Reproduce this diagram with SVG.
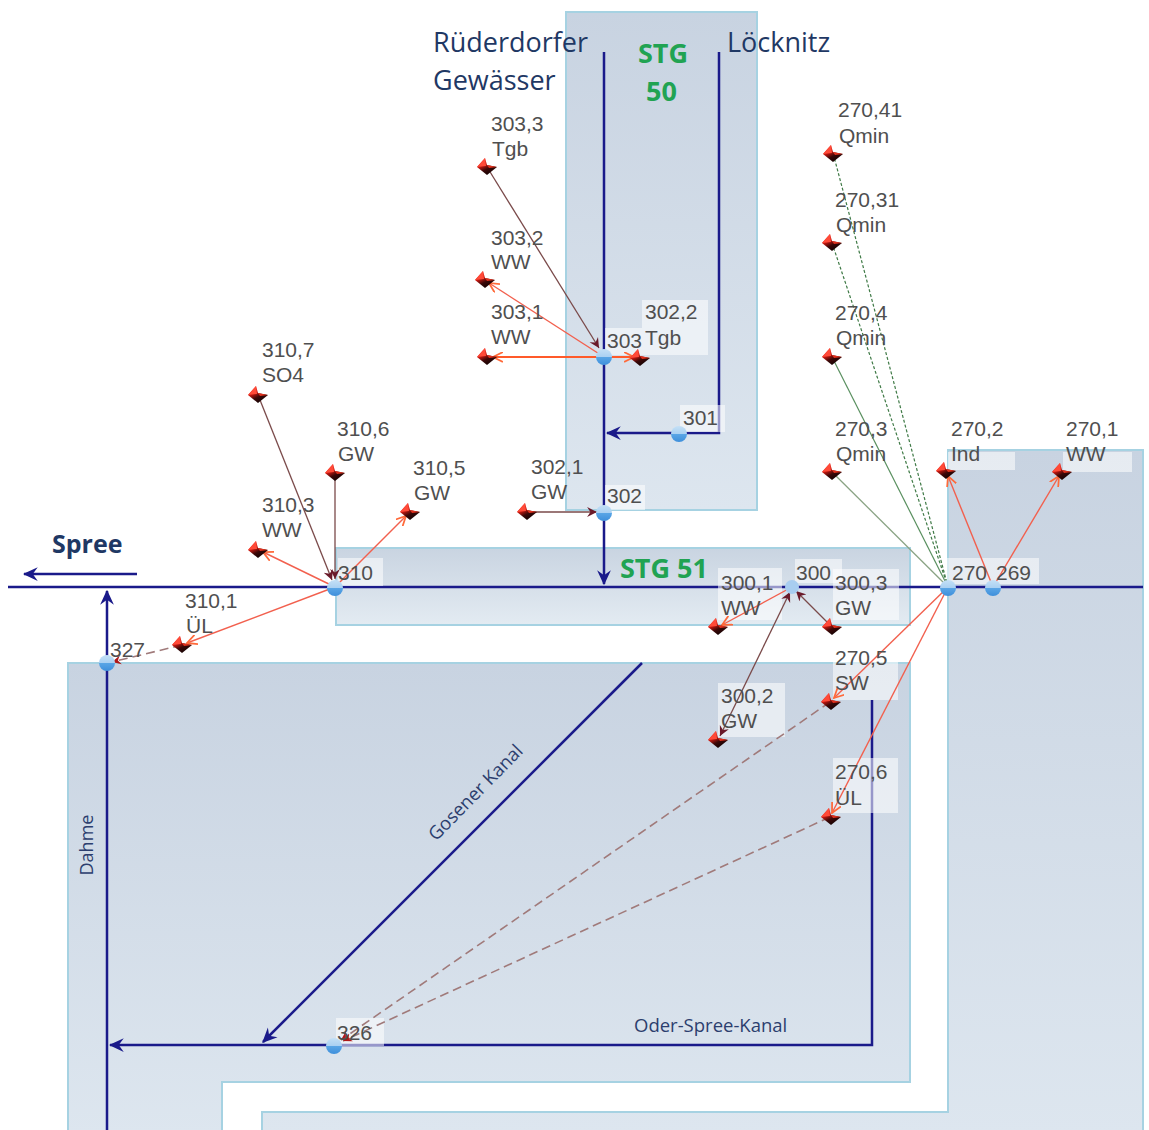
<svg xmlns="http://www.w3.org/2000/svg" width="1149" height="1130" viewBox="0 0 1149 1130">
<style>
.reg{stroke:#a6d2e2;stroke-width:2}
.riv{fill:none;stroke:#1a1a8a;stroke-width:2.5}
.lb{font-family:"Liberation Sans",Arial,sans-serif;font-size:21px;fill:#4f4f4f}
.nm{font-family:"Open Sans","Liberation Sans",sans-serif;font-size:27px;fill:#1f3864}
.stg{font-family:"Open Sans","Liberation Sans",sans-serif;font-size:27px;font-weight:bold;fill:#21a352}
.sm{font-family:"Open Sans","Liberation Sans",sans-serif;font-size:18px;fill:#2c3e6e}
.bx{fill:#ffffff;opacity:0.55}
.red{fill:none;stroke:#f2604e;stroke-width:1.4}
.ora{fill:none;stroke:#ff5a2a;stroke-width:2}
.drk{fill:none;stroke:#7a4a4a;stroke-width:1.3}
.dsh{fill:none;stroke:#a07a7a;stroke-width:1.6;stroke-dasharray:9 5}
.gd{fill:none;stroke:#3f7a46;stroke-width:1.2;stroke-dasharray:3 2}
.gs{fill:none;stroke:#5a9060;stroke-width:1.2}
.gg{fill:none;stroke:#8aa384;stroke-width:1.3}
</style>
<defs>
<linearGradient id="gr" x1="0" y1="0" x2="0" y2="1"><stop offset="0" stop-color="#c8d3e1"/><stop offset="1" stop-color="#dde6ef"/></linearGradient>
<linearGradient id="gr2" x1="0" y1="0" x2="0" y2="1"><stop offset="0" stop-color="#c9d4e1"/><stop offset="1" stop-color="#e3ebf2"/></linearGradient>
<linearGradient id="nd" x1="0" y1="0" x2="0" y2="1"><stop offset="0" stop-color="#c4e0f6"/><stop offset="0.5" stop-color="#a9d0f2"/><stop offset="0.5" stop-color="#5aa6e6"/><stop offset="1" stop-color="#3e8fdb"/></linearGradient>
<linearGradient id="mkg" x1="0" y1="0" x2="0.6" y2="1"><stop offset="0" stop-color="#ff4a3a"/><stop offset="0.45" stop-color="#c81810"/><stop offset="0.7" stop-color="#3a0808"/><stop offset="1" stop-color="#120202"/></linearGradient>
<marker id="nav" viewBox="0 0 12 12" refX="11" refY="6" markerWidth="15" markerHeight="15" markerUnits="userSpaceOnUse" orient="auto"><path d="M0,0.5 L12,6 L0,11.5 L4,6 Z" fill="#1a1a8a"/></marker>
<marker id="ar" viewBox="0 0 10 10" refX="9" refY="5" markerWidth="11" markerHeight="11" markerUnits="userSpaceOnUse" orient="auto"><path d="M0,0.5 L9,5 L0,9.5" fill="none" stroke="#ff6a3a" stroke-width="1.6"/></marker>
<marker id="ad" viewBox="0 0 10 10" refX="9" refY="5" markerWidth="11" markerHeight="11" markerUnits="userSpaceOnUse" orient="auto-start-reverse"><path d="M0,0.5 L9,5 L0,9.5 L3,5 Z" fill="#6a1a2a"/></marker>
<marker id="adr" viewBox="0 0 10 10" refX="9" refY="5" markerWidth="10" markerHeight="10" markerUnits="userSpaceOnUse" orient="auto"><path d="M0,0.5 L9,5 L0,9.5 L3,5 Z" fill="#b01818"/></marker>
<g id="mk"><polygon points="-10,0 -2,-9 0,-2 10,0 0,8" fill="url(#mkg)"/><polygon points="-10,0 -2,-9 -1,-1" fill="#ff4a38"/><polygon points="0,-2 10,0 2,1" fill="#e0301c"/></g>
</defs>

<g id="regions">
<rect id="stg50" class="reg" x="566" y="12" width="191" height="498" fill="url(#gr)"/>
<rect id="stg51" class="reg" x="336" y="548" width="574" height="77" fill="url(#gr2)"/>
<path id="lower" class="reg" d="M68,663 H910 V1082 H222 V1134 H68 Z" fill="url(#gr)"/>
<path id="right" class="reg" d="M948,450 H1143 V1134 H262 V1112 H948 Z" fill="url(#gr)"/>
</g>

<g id="rivers">
<path class="riv" d="M8,587 H1143"/>
<path class="riv" d="M604,52 V584" marker-end="url(#nav)"/>
<path class="riv" d="M719,52 V433 H607" marker-end="url(#nav)"/>
<path class="riv" d="M107,1134 V591" marker-end="url(#nav)"/>
<path class="riv" d="M872,700 V1045 H110" marker-end="url(#nav)"/>
<path class="riv" d="M642,663 L263,1042" marker-end="url(#nav)"/>
<path class="riv" d="M137,574 H24" stroke="#1f3864" stroke-width="1.8" marker-end="url(#nav)"/>
</g>

<g id="labelboxes">
<rect class="bx" x="605" y="328" width="37" height="27"/>
<rect class="bx" x="642" y="300" width="66" height="55"/>
<rect class="bx" x="680" y="405" width="45" height="27"/>
<rect class="bx" x="605" y="485" width="40" height="25"/>
<rect class="bx" x="338" y="558" width="45" height="28"/>
<rect class="bx" x="718" y="568" width="64" height="52"/>
<rect class="bx" x="795" y="559" width="47" height="24"/>
<rect class="bx" x="833" y="569" width="66" height="51"/>
<rect class="bx" x="833" y="648" width="65" height="52"/>
<rect class="bx" x="718" y="683" width="67" height="54"/>
<rect class="bx" x="833" y="758" width="65" height="55"/>
<rect class="bx" x="947" y="558" width="92" height="26"/>
<rect class="bx" x="948" y="452" width="67" height="18"/>
<rect class="bx" x="1063" y="452" width="69" height="20"/>
<rect class="bx" x="336" y="1018" width="48" height="28"/>
</g>

<g id="connectors">
<path class="drk" d="M487,167 L599,348" marker-end="url(#ad)"/>
<path class="red" d="M604,357 L489,283" marker-end="url(#ar)"/>
<path class="ora" d="M604,357 L493,357" marker-end="url(#ar)"/>
<path class="ora" d="M604,357 L634,357" marker-end="url(#ar)"/>
<path class="drk" d="M527,512 L597,512" marker-end="url(#ad)"/>
<path class="drk" d="M258,395 L332,580" marker-end="url(#ad)"/>
<path class="drk" d="M335,473 L335,579" marker-end="url(#ad)"/>
<path class="red" d="M335,587 L406,516" marker-end="url(#ar)"/>
<path class="red" d="M335,587 L263,552" marker-end="url(#ar)"/>
<path class="red" d="M335,587 L187,643" marker-end="url(#ar)"/>
<path class="dsh" d="M182,645 L112,662" marker-end="url(#adr)"/>
<path class="red" d="M792,587 L722,625" marker-end="url(#ar)"/>
<path class="drk" d="M832,627 L796,591" marker-end="url(#ad)"/>
<path class="drk" d="M790,592 L720,736" marker-start="url(#ad)" marker-end="url(#ad)"/>
<path class="gd" d="M948,587 L833,153"/>
<path class="gd" d="M948,587 L832,243"/>
<path class="gs" d="M948,587 L832,357"/>
<path class="gg" d="M948,587 L832,472"/>
<path class="red" d="M993,587 L948,476" marker-end="url(#ar)"/>
<path class="red" d="M993,587 L1059,476" marker-end="url(#ar)"/>
<path class="red" d="M948,587 L834,698" marker-end="url(#ar)"/>
<path class="red" d="M948,587 L832,813" marker-end="url(#ar)"/>
<path class="dsh" d="M830,702 L341,1040" marker-end="url(#adr)"/>
<path class="dsh" d="M830,817 L343,1041" marker-end="url(#adr)"/>
</g>

<g id="nodes">
<g id="n303"><circle cx="604" cy="357" r="8" fill="url(#nd)"/><text class="lb" x="607" y="348">303</text></g>
<g id="n301"><circle cx="679" cy="434" r="8" fill="url(#nd)"/><text class="lb" x="683" y="425">301</text></g>
<g id="n302"><circle cx="604" cy="513" r="8" fill="url(#nd)"/><text class="lb" x="607" y="503">302</text></g>
<g id="n310"><circle cx="335" cy="588" r="8" fill="url(#nd)"/><text class="lb" x="338" y="580">310</text></g>
<g id="n327"><circle cx="107" cy="663" r="8" fill="url(#nd)"/><text class="lb" x="110" y="657">327</text></g>
<g id="n300"><circle cx="792" cy="587" r="7" fill="#a8cdf0"/><text class="lb" x="796" y="580">300</text></g>
<g id="n270"><circle cx="948" cy="588" r="8" fill="url(#nd)"/><text class="lb" x="952" y="580">270</text></g>
<g id="n269"><circle cx="993" cy="588" r="8" fill="url(#nd)"/><text class="lb" x="996" y="580">269</text></g>
<g id="n326"><circle cx="334" cy="1046" r="8" fill="url(#nd)"/><text class="lb" x="337" y="1040">326</text></g>

<g id="m303_3"><use href="#mk" x="487" y="167"/><text class="lb" x="491" y="131">303,3</text><text class="lb" x="492" y="156">Tgb</text></g>
<g id="m303_2"><use href="#mk" x="485" y="280"/><text class="lb" x="491" y="245">303,2</text><text class="lb" x="491" y="269">WW</text></g>
<g id="m303_1"><use href="#mk" x="487" y="357"/><text class="lb" x="491" y="319">303,1</text><text class="lb" x="491" y="344">WW</text></g>
<g id="m302_2"><use href="#mk" x="640" y="358"/><text class="lb" x="645" y="319">302,2</text><text class="lb" x="645" y="345">Tgb</text></g>
<g id="m302_1"><use href="#mk" x="527" y="512"/><text class="lb" x="531" y="474">302,1</text><text class="lb" x="531" y="499">GW</text></g>
<g id="m310_7"><use href="#mk" x="258" y="395"/><text class="lb" x="262" y="357">310,7</text><text class="lb" x="262" y="382">SO4</text></g>
<g id="m310_6"><use href="#mk" x="335" y="473"/><text class="lb" x="337" y="436">310,6</text><text class="lb" x="338" y="461">GW</text></g>
<g id="m310_5"><use href="#mk" x="410" y="512"/><text class="lb" x="413" y="475">310,5</text><text class="lb" x="414" y="500">GW</text></g>
<g id="m310_3"><use href="#mk" x="258" y="550"/><text class="lb" x="262" y="512">310,3</text><text class="lb" x="262" y="537">WW</text></g>
<g id="m310_1"><use href="#mk" x="182" y="645"/><text class="lb" x="185" y="608">310,1</text><text class="lb" x="186" y="633">ÜL</text></g>
<g id="m300_1"><use href="#mk" x="718" y="627"/><text class="lb" x="721" y="590">300,1</text><text class="lb" x="721" y="615">WW</text></g>
<g id="m300_3"><use href="#mk" x="832" y="627"/><text class="lb" x="835" y="590">300,3</text><text class="lb" x="835" y="615">GW</text></g>
<g id="m300_2"><use href="#mk" x="718" y="740"/><text class="lb" x="721" y="703">300,2</text><text class="lb" x="721" y="728">GW</text></g>
<g id="m270_5"><use href="#mk" x="831" y="702"/><text class="lb" x="835" y="665">270,5</text><text class="lb" x="835" y="690">SW</text></g>
<g id="m270_6"><use href="#mk" x="831" y="817"/><text class="lb" x="835" y="779">270,6</text><text class="lb" x="835" y="805">ÜL</text></g>
<g id="m270_41"><use href="#mk" x="833" y="154"/><text class="lb" x="838" y="117">270,41</text><text class="lb" x="839" y="143">Qmin</text></g>
<g id="m270_31"><use href="#mk" x="832" y="243"/><text class="lb" x="835" y="207">270,31</text><text class="lb" x="836" y="232">Qmin</text></g>
<g id="m270_4"><use href="#mk" x="832" y="357"/><text class="lb" x="835" y="320">270,4</text><text class="lb" x="836" y="345">Qmin</text></g>
<g id="m270_3"><use href="#mk" x="832" y="472"/><text class="lb" x="835" y="436">270,3</text><text class="lb" x="836" y="461">Qmin</text></g>
<g id="m270_2"><use href="#mk" x="946" y="471"/><text class="lb" x="951" y="436">270,2</text><text class="lb" x="951" y="461">Ind</text></g>
<g id="m270_1"><use href="#mk" x="1062" y="472"/><text class="lb" x="1066" y="436">270,1</text><text class="lb" x="1066" y="461">WW</text></g>
</g>

<g id="titles">
<text class="nm" x="433" y="52">Rüderdorfer</text>
<text class="nm" x="433" y="90">Gewässer</text>
<text class="nm" x="727" y="52">Löcknitz</text>
<text class="stg" x="638" y="63">STG</text>
<text class="stg" x="646" y="101">50</text>
<text class="stg" x="620" y="578">STG 51</text>
<text class="nm" x="52" y="553" style="font-weight:bold;font-size:25px">Spree</text>
<text class="sm" transform="translate(93,845) rotate(-90)" text-anchor="middle">Dahme</text>
<text class="sm" transform="translate(480,797) rotate(-45.5)" text-anchor="middle" style="font-size:18.5px">Gosener Kanal</text>
<text class="sm" x="634" y="1032" style="font-size:18.5px">Oder-Spree-Kanal</text>
</g>
</svg>
